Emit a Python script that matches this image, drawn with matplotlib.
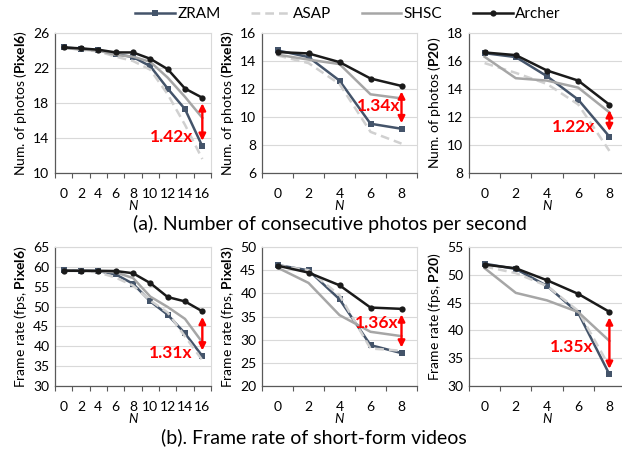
import matplotlib
matplotlib.use("Agg")
import matplotlib.pyplot as plt
from matplotlib.ticker import FixedLocator

plt.rcParams["font.family"] = ["Lato", "DejaVu Sans"]
plt.rcParams["mathtext.fontset"] = "custom"
plt.rcParams["mathtext.rm"] = "Lato"
plt.rcParams["mathtext.bf"] = "Lato:bold"
plt.rcParams["mathtext.it"] = "Lato:italic"

# x categories
N_LONG = [0, 2, 4, 6, 8, 10, 12, 14, 16]
N_SHORT = [0, 2, 4, 6, 8]

# (a) number of consecutive photos per second
P6_PHOTO_ZRAM = [24.35, 24.2, 24.05, 23.6, 23.25, 22.2, 19.65, 17.3, 13.05]
P6_PHOTO_ASAP = [24.3, 24.1, 23.9, 23.3, 22.8, 21.8, 19.0, 15.5, 11.6]
P6_PHOTO_SHSC = [24.3, 24.1, 24.0, 23.5, 23.3, 22.7, 20.9, 18.7, 16.3]
P6_PHOTO_ARCHER = [24.35, 24.24, 24.09, 23.78, 23.78, 23.05, 21.87, 19.65, 18.6]

P3_PHOTO_ZRAM = [14.76, 14.28, 12.6, 9.52, 9.16]
P3_PHOTO_ASAP = [14.4, 13.85, 12.36, 8.94, 8.1]
P3_PHOTO_SHSC = [14.45, 14.1, 13.78, 11.62, 11.33]
P3_PHOTO_ARCHER = [14.64, 14.54, 13.92, 12.75, 12.22]

P20_PHOTO_ZRAM = [16.56, 16.28, 14.91, 13.24, 10.6]
P20_PHOTO_ASAP = [15.85, 15.15, 14.36, 12.9, 9.58]
P20_PHOTO_SHSC = [16.3, 14.77, 14.6, 14.1, 12.33]
P20_PHOTO_ARCHER = [16.61, 16.42, 15.32, 14.6, 12.88]

# (b) frame rate of short-form videos
P6_FPS_ZRAM = [59.1, 59.05, 58.95, 58.1, 55.75, 51.3, 47.95, 43.25, 37.55]
P6_FPS_ASAP = [59.0, 59.0, 58.6, 57.3, 55.3, 51.5, 48.5, 42.5, 36.5]
P6_FPS_SHSC = [59.0, 59.0, 58.9, 58.6, 57.2, 52.5, 49.9, 46.9, 41.0]
P6_FPS_ARCHER = [59.04, 59.0, 59.0, 58.95, 58.4, 55.9, 52.4, 51.3, 48.8]

P3_FPS_ZRAM = [46.1, 44.97, 38.73, 28.82, 27.1]
P3_FPS_ASAP = [46.0, 45.0, 39.6, 28.1, 27.6]
P3_FPS_SHSC = [45.55, 42.25, 35.3, 31.7, 30.76]
P3_FPS_ARCHER = [45.98, 44.47, 41.74, 36.93, 36.65]

P20_FPS_ZRAM = [52.0, 51.05, 48.0, 43.16, 32.1]
P20_FPS_ASAP = [51.5, 50.3, 48.0, 43.5, 33.5]
P20_FPS_SHSC = [51.2, 46.75, 45.4, 43.3, 38.1]
P20_FPS_ARCHER = [51.83, 51.17, 49.02, 46.57, 43.34]

SPEEDUP_LABELS = ["1.42x", "1.34x", "1.22x", "1.31x", "1.36x", "1.35x"]

SERIES_NAMES = ["ZRAM", "ASAP", "SHSC", "Archer"]
SERIES_STYLE = {
    "ZRAM": dict(color="#44546a", lw=1.8, marker="s", ms=5.0, ls="-"),
    "ASAP": dict(color="#d0d0d0", lw=1.8, marker=None, ls=(0, (3.5, 2))),
    "SHSC": dict(color="#a6a6a6", lw=1.8, marker=None, ls="-"),
    "Archer": dict(color="#1a1a1a", lw=1.8, marker="o", ms=4.5, ls="-"),
}

W, H = 622, 454
COLS = [(55, 156), (262, 155), (469, 156)]
ROWS = [(33, 173), (247, 386)]

PANELS = [
    # row, col, N, series, ylim, ystep, ylabel, text x, text y
    (0, 0, N_LONG, [P6_PHOTO_ZRAM, P6_PHOTO_ASAP, P6_PHOTO_SHSC, P6_PHOTO_ARCHER],
     (10, 26), 4, r"Num. of photos ($\mathbf{Pixel6}$)", 7.45, 14.1),
    (0, 1, N_SHORT, [P3_PHOTO_ZRAM, P3_PHOTO_ASAP, P3_PHOTO_SHSC, P3_PHOTO_ARCHER],
     (6, 16), 2, r"Num. of photos ($\mathbf{Pixel3}$)", 3.95, 10.8),
    (0, 2, N_SHORT, [P20_PHOTO_ZRAM, P20_PHOTO_ASAP, P20_PHOTO_SHSC, P20_PHOTO_ARCHER],
     (8, 18), 2, r"Num. of photos ($\mathbf{P20}$)", 3.55, 11.3),
    (1, 0, N_LONG, [P6_FPS_ZRAM, P6_FPS_ASAP, P6_FPS_SHSC, P6_FPS_ARCHER],
     (30, 65), 5, r"Frame rate (fps, $\mathbf{Pixel6}$)", 7.45, 38.3),
    (1, 1, N_SHORT, [P3_FPS_ZRAM, P3_FPS_ASAP, P3_FPS_SHSC, P3_FPS_ARCHER],
     (20, 50), 5, r"Frame rate (fps, $\mathbf{Pixel3}$)", 3.9, 33.6),
    (1, 2, N_SHORT, [P20_FPS_ZRAM, P20_FPS_ASAP, P20_FPS_SHSC, P20_FPS_ARCHER],
     (30, 55), 5, r"Frame rate (fps, $\mathbf{P20}$)", 3.5, 37.0),
]

fig = plt.figure(figsize=(W / 100, H / 100), dpi=100)

handles = []
for idx, (r, c, ns, series, ylim, ystep, ylabel, tx, ty) in enumerate(PANELS):
    x0, w = COLS[c]
    top, bottom = ROWS[r]
    ax = fig.add_axes([x0 / W, 1 - bottom / H, w / W, (bottom - top) / H])
    x = list(range(len(ns)))
    lines = []
    for name, vals in zip(SERIES_NAMES, series):
        st = SERIES_STYLE[name]
        (ln,) = ax.plot(x, vals, color=st["color"], lw=st["lw"], ls=st["ls"],
                        marker=st["marker"], ms=st.get("ms", 0),
                        markeredgewidth=0, label=name, zorder=3)
        lines.append(ln)
    if idx == 0:
        handles = lines

    ax.set_xlim(-0.5, len(ns) - 0.5)
    ax.set_ylim(*ylim)
    ax.set_yticks(list(range(ylim[0], ylim[1] + 1, ystep)))
    ax.set_xticks(x)
    ax.set_xticklabels([str(n) for n in ns])
    ax.xaxis.set_minor_locator(FixedLocator([i - 0.5 for i in range(len(ns) + 1)]))
    ax.tick_params(axis="x", which="major", length=0, labelsize=10, pad=11)
    ax.tick_params(axis="x", which="minor", length=3.5, width=0.8, color="#595959", direction="out")
    ax.tick_params(axis="y", length=0, labelsize=10, pad=4)
    ax.grid(axis="y", color="#d9d9d9", lw=0.8)
    ax.set_axisbelow(True)
    for side in ("top", "right"):
        ax.spines[side].set_color("#d9d9d9")
        ax.spines[side].set_linewidth(0.8)
    for side in ("left", "bottom"):
        ax.spines[side].set_color("#595959")
        ax.spines[side].set_linewidth(0.9)

    ax.set_ylabel(ylabel, fontsize=10, labelpad=3)
    ax.set_xlabel("N", fontsize=9.5, style="italic", labelpad=0)

    # speedup arrow between ZRAM and Archer at the last N
    xl = x[-1]
    ax.annotate("", xy=(xl, series[3][-1]), xytext=(xl, series[0][-1]),
                arrowprops=dict(arrowstyle="<|-|>", color="#ff0000", lw=1.7,
                                mutation_scale=10, shrinkA=4, shrinkB=4),
                zorder=5)
    ax.text(tx, ty, SPEEDUP_LABELS[idx], color="#ff0000", fontsize=12.5,
            fontweight="bold", ha="right", va="center", zorder=6)

fig.legend(handles, SERIES_NAMES, loc="center", bbox_to_anchor=(0.559, 1 - 14 / H),
           ncol=4, frameon=False, fontsize=11, handlelength=2.6,
           handletextpad=0.15, columnspacing=2.0)

fig.text(0.53, 1 - 224 / H, "(a). Number of consecutive photos per second",
         ha="center", va="center", fontsize=14)
fig.text(0.505, 1 - 437 / H, "(b). Frame rate of short-form videos",
         ha="center", va="center", fontsize=14)

fig.savefig("out.png", dpi=100)
